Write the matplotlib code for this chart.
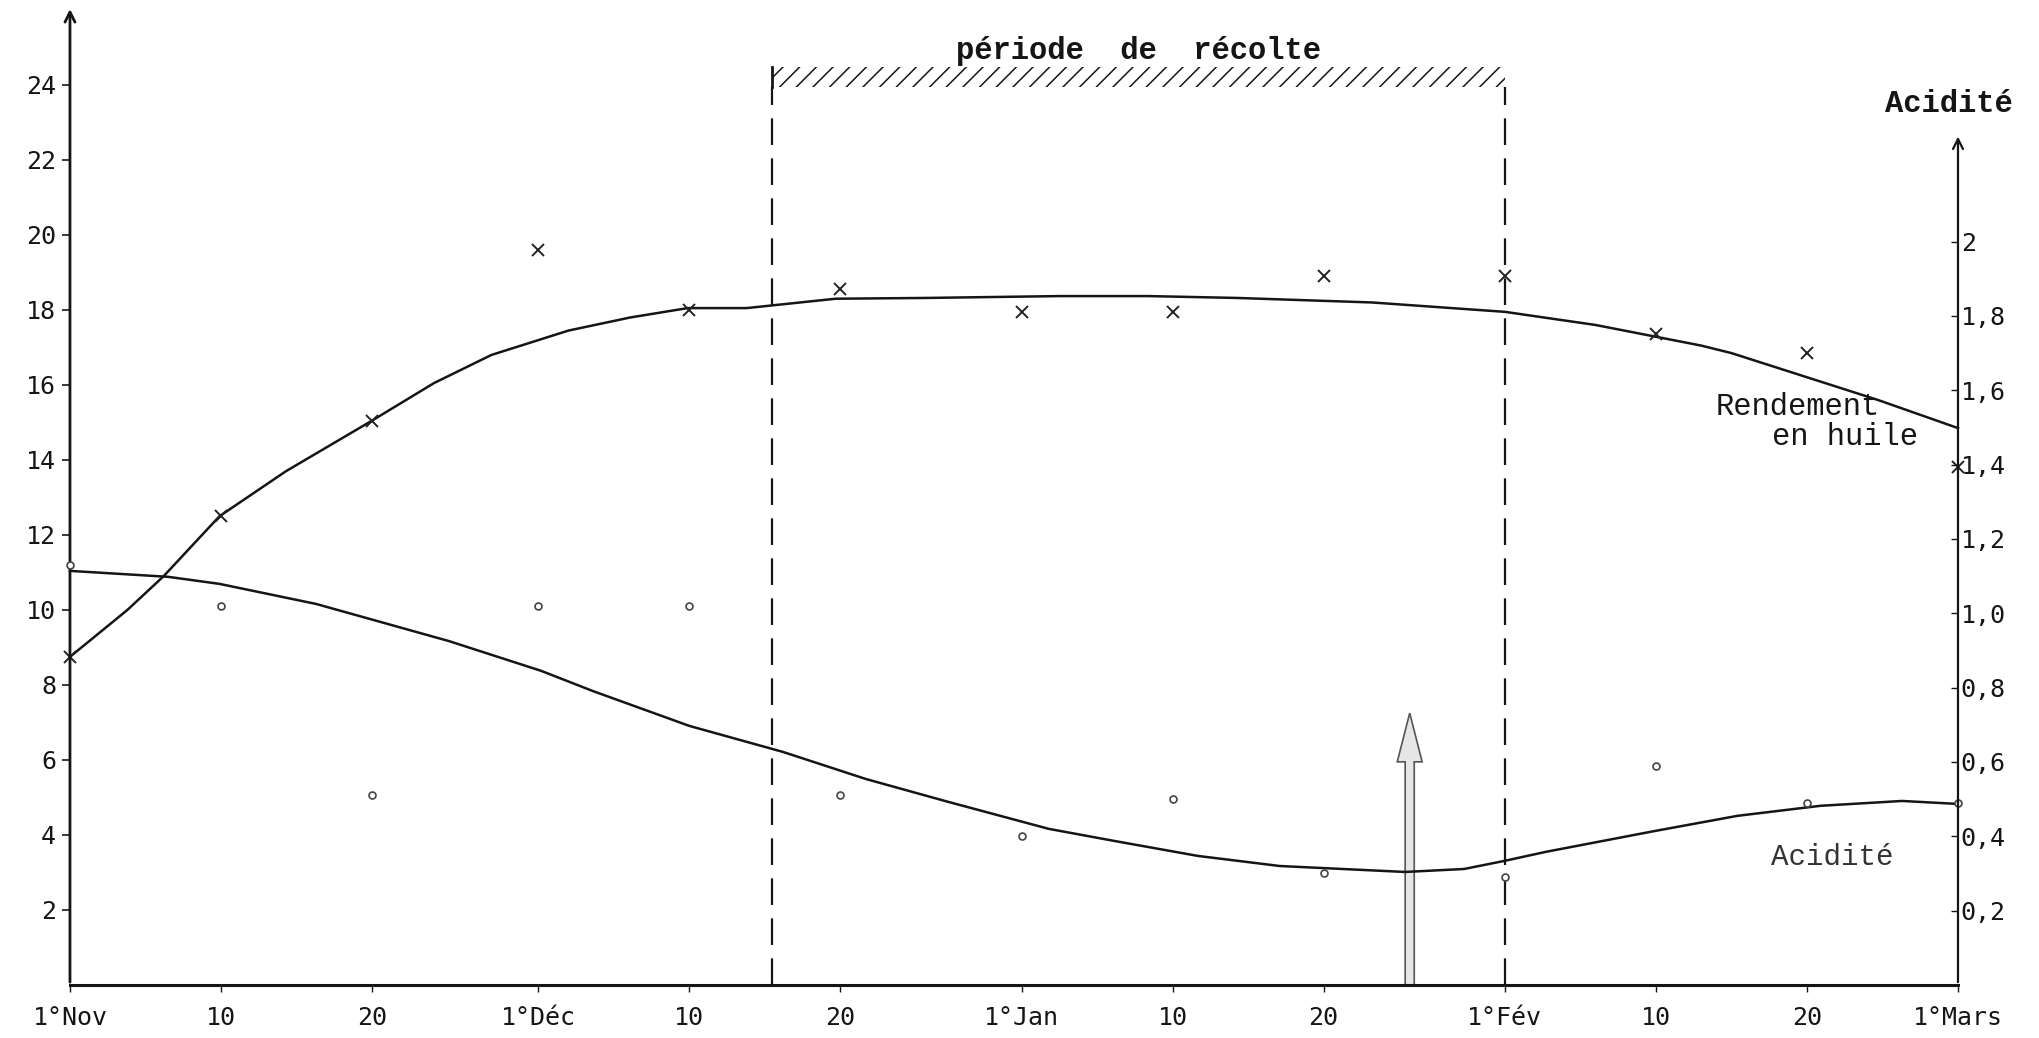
# Rendement en huile et acidité des olives au cours de la saison (1 nov - 1 mars)
import matplotlib
matplotlib.use("Agg")
import matplotlib.pyplot as plt
from matplotlib.patches import Rectangle, FancyArrow

# positions sur l'axe des temps (tel que dessiné : ~10 unités par décade)
tick_pos = [0, 10, 20, 31, 41, 51, 63, 73, 83, 95, 105, 115, 125]
tick_labels = ["1°Nov", "10", "20", "1°Déc", "10", "20", "1°Jan",
               "10", "20", "1°Fév", "10", "20", "1°Mars"]

# points mesurés (mêmes dates que les graduations)
point_days = [0, 10, 20, 31, 41, 51, 63, 73, 83, 95, 105, 115, 125]
rendement_pts = [8.75, 12.5, 15.05, 19.6, 18.0, 18.55, 17.95, 17.95, 18.9, 18.9, 17.35, 16.85, 13.8]
acidite_pts = [1.13, 1.02, 0.51, 1.02, 1.02, 0.51, 0.40, 0.50, 0.30, 0.29, 0.59, 0.49, 0.49]

# courbes tracées à la main
rend_curve_x = [0, 3.8, 6.2, 9.9, 14.3, 20, 24.1, 27.9, 33, 37.1, 40.9, 44.8, 50.7,
                56.6, 65.5, 71.4, 77.3, 86.2, 95, 101, 108, 110, 119.7, 125]
rend_curve_y = [8.75, 10.0, 10.9, 12.5, 13.7, 15.05, 16.05, 16.8, 17.45, 17.8, 18.05, 18.05, 18.3,
                18.32, 18.37, 18.37, 18.32, 18.2, 17.95, 17.6, 17.05, 16.85, 15.6, 14.85]
acid_curve_x = [0, 6.5, 9.9, 16.3, 25.1, 31.2, 34.6, 41, 47.2, 52.7, 58.2, 64.8, 69.2,
                74.7, 80.1, 88.4, 92.3, 95, 97.7, 104.9, 110.4, 115.9, 121.3, 125]
acid_curve_y = [1.114, 1.098, 1.079, 1.025, 0.925, 0.845, 0.791, 0.697, 0.627, 0.554, 0.492, 0.420, 0.387,
                0.347, 0.320, 0.304, 0.312, 0.334, 0.358, 0.414, 0.455, 0.482, 0.495, 0.487]

left_ticks = [2, 4, 6, 8, 10, 12, 14, 16, 18, 20, 22, 24]
right_ticks = [0.2, 0.4, 0.6, 0.8, 1.0, 1.2, 1.4, 1.6, 1.8, 2.0]
right_labels = ["0,2", "0,4", "0,6", "0,8", "1,0", "1,2", "1,4", "1,6", "1,8", "2"]

recolte_debut = 46.5
recolte_fin = 95
fleche_jour = 88.7

ink = "#151515"
mono = "Liberation Mono"
tick_font = "DejaVu Sans Mono"

fig = plt.figure(figsize=(20.4, 10.38), dpi=100)
ax = fig.add_axes([0.0343, 0.0511, 0.9255, 0.9393])
ax2 = ax.twinx()
ax.set_xlim(0, 125)
ax.set_ylim(0, 26)
ax2.set_ylim(0, 2.623)
for a in (ax, ax2):
    for s in a.spines.values():
        s.set_visible(False)
ax2.patch.set_visible(False)

# axes dessinés à la main
ax.annotate("", xy=(0, 26.1), xytext=(0, 0), annotation_clip=False,
            arrowprops=dict(arrowstyle="->", lw=2, color=ink, mutation_scale=18))
ax.plot([0, 125], [0, 0], color=ink, lw=2.2, clip_on=False)
ax2.annotate("", xy=(125, 2.29), xytext=(125, 0), annotation_clip=False,
             arrowprops=dict(arrowstyle="->", lw=1.6, color=ink, mutation_scale=18))

# graduations
ax.set_xticks(tick_pos)
ax.set_xticklabels(tick_labels, family=tick_font, fontsize=18, color="#333")
ax.tick_params(axis="x", direction="out", length=5, width=1, pad=10, colors=ink)
ax.set_yticks(left_ticks)
ax.set_yticklabels([str(t) for t in left_ticks], family=tick_font, fontsize=18, color="#222")
ax.tick_params(axis="y", direction="out", length=6, width=1.2, pad=4, colors=ink)
ax2.set_yticks(right_ticks)
ax2.set_yticklabels(right_labels, family=tick_font, fontsize=18, color="#222")
ax2.tick_params(axis="y", direction="in", length=5, width=1, pad=2, colors=ink)

# période de récolte
ax.plot([recolte_debut, recolte_debut], [0, 23.95], color=ink, lw=1.6, linestyle=(0, (12, 6)))
ax.plot([recolte_fin, recolte_fin], [0, 23.95], color=ink, lw=1.6, linestyle=(0, (12, 6)))
plt.rcParams["hatch.linewidth"] = 1.1
ax.add_patch(Rectangle((recolte_debut, 23.95), recolte_fin - recolte_debut, 0.53,
                       fill=False, hatch="//", edgecolor=ink, lw=0, clip_on=False))
ax.plot([recolte_debut, recolte_debut], [23.95, 24.48], color=ink, lw=2)
ax.text((recolte_debut + recolte_fin) / 2, 24.9, "période  de  récolte", family=mono,
        fontweight="bold", fontsize=22, ha="center", va="center", color=ink)

# rendement en huile (axe de gauche)
ax.plot(rend_curve_x, rend_curve_y, color=ink, lw=1.8, clip_on=False)
ax.plot(point_days, rendement_pts, linestyle="none", marker="x", ms=8, mew=1.4,
        color="#222", clip_on=False)

# acidité (axe de droite)
ax2.plot(acid_curve_x, acid_curve_y, color=ink, lw=1.8, clip_on=False)
ax2.plot(point_days, acidite_pts, linestyle="none", marker="o", ms=5, mew=1.2,
         mfc="white", mec="#444", clip_on=False)

# flèche verticale
ax.add_patch(FancyArrow(fleche_jour, 0, 0, 7.25, width=0.6, head_width=1.65,
                        head_length=1.3, length_includes_head=True,
                        fc="#e6e6e6", ec="#555", lw=1.2))

# textes
ax.text(114.4, 15.4, "Rendement", family=mono, fontsize=22, ha="center", va="center", color=ink)
ax.text(117.5, 14.6, "en huile", family=mono, fontsize=22, ha="center", va="center", color=ink)
ax.text(116.7, 3.4, "Acidité", family=mono, fontsize=21, ha="center", va="center", color="#333")
ax.text(124.4, 23.5, "Acidité", family=mono, fontweight="bold", fontsize=22,
        ha="center", va="center", color=ink, clip_on=False)

fig.savefig("out.png", dpi=100)
